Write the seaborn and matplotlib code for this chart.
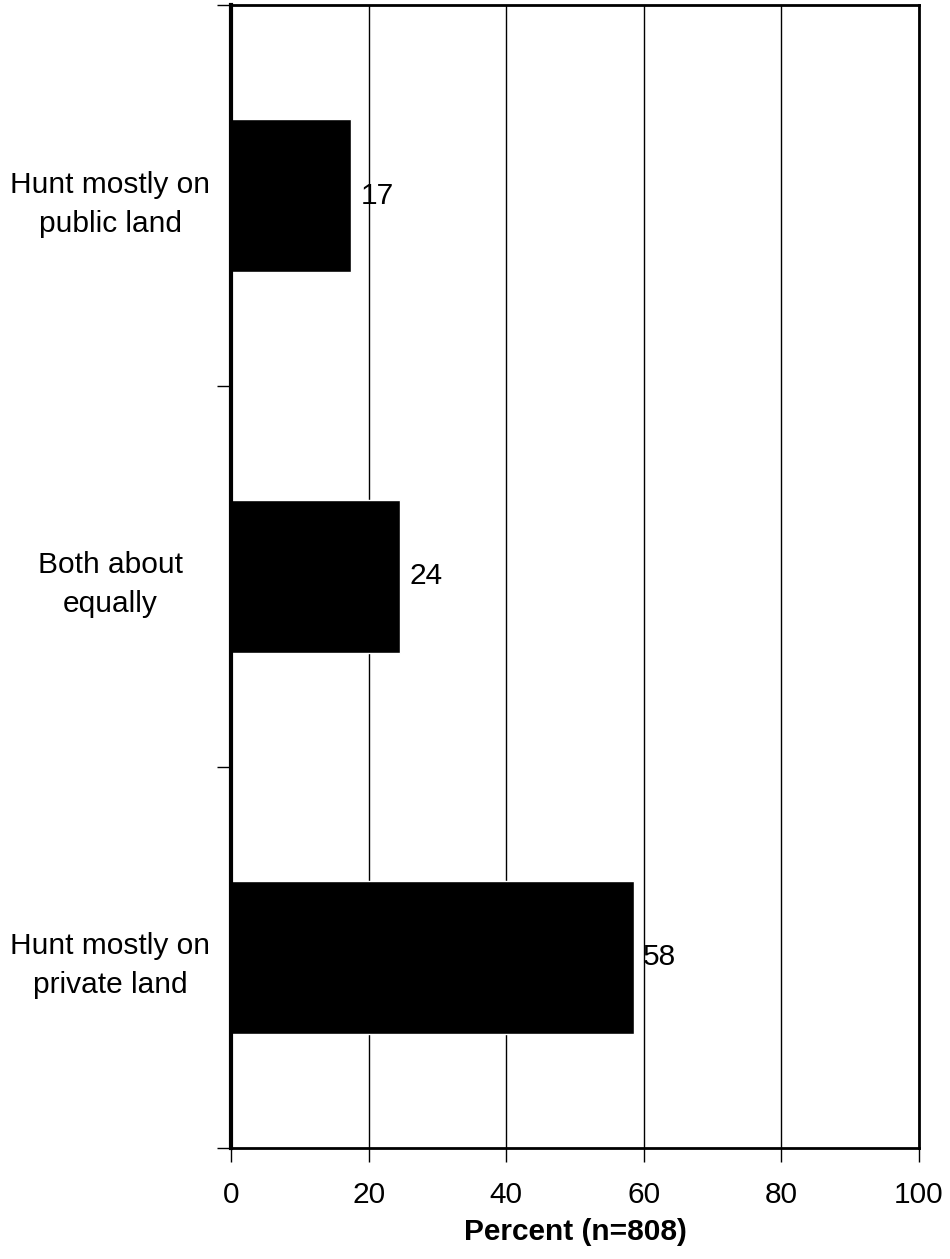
import matplotlib
matplotlib.use("Agg")
import matplotlib.pyplot as plt
import seaborn as sns
import pandas as pd

# data
categories = ["Hunt mostly on\npublic land", "Both about\nequally", "Hunt mostly on\nprivate land"]
values = [17.4, 24.5, 58.5]
value_labels = ["17", "24", "58"]
x_ticks = [0, 20, 40, 60, 80, 100]

df = pd.DataFrame({"category": categories, "pct": values})

sns.set_style("white")
plt.rcParams['font.family'] = ['Liberation Sans', 'DejaVu Sans']
plt.rcParams['text.color'] = 'black'
plt.rcParams['axes.labelcolor'] = 'black'
plt.rcParams['xtick.color'] = 'black'
plt.rcParams['ytick.color'] = 'black'

fs = 21.5

fig = plt.figure(figsize=(9.5, 12.59), dpi=100)
ax = fig.add_axes([0.2432, 0.0882, 0.7242, 0.9078])

sns.barplot(data=df, x="pct", y="category", orient="h", color="black",
            width=0.4, saturation=1, ax=ax)

ax.set_xlim(0, 100)
ax.set_ylim(2.5, -0.5)
ax.set_xticks(x_ticks)
ax.set_xticklabels([str(t) for t in x_ticks], fontsize=fs)
ax.tick_params(axis="x", bottom=True, direction="out", length=10, width=1, pad=14)

# boundary ticks on the y axis, labels at the category centres
ax.set_yticks([-0.5, 0.5, 1.5, 2.5])
ax.set_yticklabels([])
ax.tick_params(axis="y", which="major", left=True, direction="out", length=10, width=1)
ax.set_yticks([0, 1, 2], minor=True)
ax.set_yticklabels(categories, minor=True, fontsize=fs, ha="center",
                   multialignment="center", linespacing=1.5)
ax.tick_params(axis="y", which="minor", left=True, length=0, pad=87)

ax.set_ylabel("")
ax.set_xlabel("Percent (n=808)", fontsize=fs, fontweight="bold", labelpad=6)

ax.xaxis.grid(True, color="black", linewidth=1)
ax.set_axisbelow(True)
for s in ax.spines.values():
    s.set_visible(True)
    s.set_color("black")
    s.set_linewidth(2)
ax.spines["left"].set_linewidth(3)

ax.bar_label(ax.containers[0], labels=value_labels, padding=7, fontsize=fs)

fig.savefig("out.png", dpi=100, facecolor="white")
